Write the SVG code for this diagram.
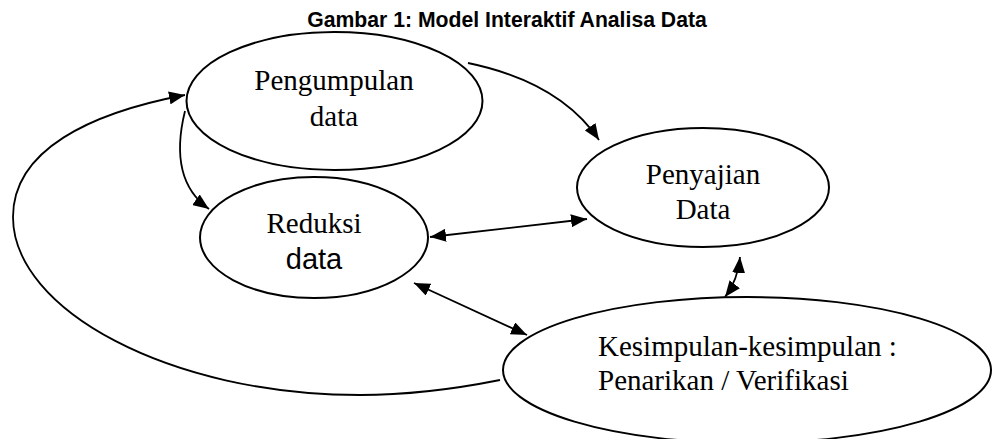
<svg xmlns="http://www.w3.org/2000/svg" width="992" height="439" viewBox="0 0 992 439">
<style>
.node{fill:none;stroke:#000;stroke-width:2}
.serif{font-family:"Liberation Serif","Times New Roman",serif;font-size:29px;fill:#000}
.sans{font-family:"Liberation Sans",Arial,sans-serif;font-size:29px;fill:#000}
.title{font-family:"Liberation Sans",Arial,sans-serif;font-size:21.2px;font-weight:bold;fill:#000}
.conn path{fill:none;stroke:#000;stroke-width:1.8}
</style>
<defs>
<marker id="arr" viewBox="0 0 16 13" refX="16" refY="6.5" markerWidth="16" markerHeight="13" markerUnits="userSpaceOnUse" orient="auto-start-reverse">
<path d="M0,0 L16,6.5 L0,13 z" fill="#000"/>
</marker>
</defs>
<rect width="992" height="439" fill="#fff"/>
<text class="title" x="507" y="27" text-anchor="middle">Gambar 1: Model Interaktif Analisa Data</text>
<g id="pengumpulan">
<ellipse class="node" cx="334.5" cy="101" rx="148" ry="69"/>
<text class="serif" x="334" y="90" text-anchor="middle">Pengumpulan</text>
<text class="serif" x="334" y="126" text-anchor="middle">data</text>
</g>
<g id="reduksi">
<ellipse class="node" cx="314" cy="237.5" rx="114" ry="60.5"/>
<text class="serif" x="314" y="233" text-anchor="middle">Reduksi</text>
<text class="sans" x="314" y="269" text-anchor="middle">data</text>
</g>
<g id="penyajian">
<ellipse class="node" cx="703" cy="187.5" rx="126" ry="59.5"/>
<text class="serif" x="703" y="184" text-anchor="middle">Penyajian</text>
<text class="serif" x="703" y="219" text-anchor="middle">Data</text>
</g>
<g id="kesimpulan">
<ellipse class="node" cx="747" cy="370" rx="244" ry="73"/>
<text class="serif" x="598" y="356">Kesimpulan-kesimpulan :</text>
<text class="serif" x="598" y="390">Penarikan / Verifikasi</text>
</g>
<g id="connectors" class="conn">
<path d="M468,63 Q560,82 599,140" marker-end="url(#arr)"/>
<path d="M185,111 Q168,180 209,209" marker-end="url(#arr)"/>
<path d="M430,237 L587,219" marker-start="url(#arr)" marker-end="url(#arr)"/>
<path d="M414,283 L527,335" marker-start="url(#arr)" marker-end="url(#arr)"/>
<path d="M725,297 Q738,280 740,257" marker-start="url(#arr)" marker-end="url(#arr)"/>
<path d="M500,380 C440,392 400,395 360,395 C170,395 13,310 13,217 C13,150 90,113 185,95" marker-end="url(#arr)"/>
</g>
</svg>
